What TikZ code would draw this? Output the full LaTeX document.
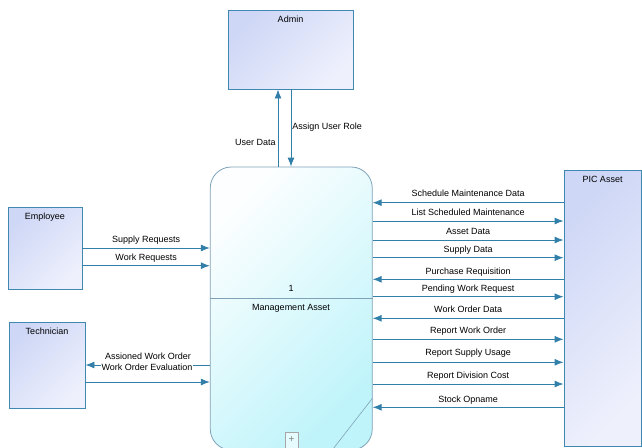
\documentclass[tikz,border=0pt]{standalone}
\usepackage{fontspec}
\setmainfont{Liberation Sans}
\usetikzlibrary{arrows.meta,positioning,calc}
\definecolor{cLine}{RGB}{50,128,170}
\definecolor{cEdge}{RGB}{62,136,178}
\definecolor{cEntA}{RGB}{206,215,246}
\definecolor{cEntB}{RGB}{238,240,252}
\definecolor{cProcA}{RGB}{252,254,255}
\definecolor{cProcB}{RGB}{190,244,250}
\definecolor{cProcEdge}{RGB}{128,162,184}
\begin{document}
\begin{tikzpicture}[x=1pt, y=-1pt,
  ent/.style={draw=cEdge, line width=0.9pt, top color=cEntA, bottom color=cEntB,
              shading angle=45, inner sep=0pt},
  proc/.style={draw=cProcEdge, line width=0.8pt, rounded corners=21pt,
               top color=cProcA, bottom color=cProcB, shading angle=45, inner sep=0pt},
  ttl/.style={anchor=north, font=\fontsize{9}{10}\selectfont, inner sep=0pt, yshift=-6.5pt},
  lbl/.style={font=\fontsize{9}{10}\selectfont, inner sep=1pt, text height=7pt, text depth=2pt},
  flow/.style={draw=cLine, line width=0.9pt, -{Latex[length=9pt,width=7pt]}}]
\useasboundingbox (0,0) rectangle (642,447);
\clip (0,0) rectangle (642,447);
% external entities
\node[ent, minimum width=125pt, minimum height=79pt] (admin) at (290.5,49.5) {};
\node[ttl] (admin-t) at (admin.north) {Admin};
\node[ent, minimum width=74pt, minimum height=82pt] (emp) at (45,248) {};
\node[ttl] (emp-t) at (emp.north) {Employee};
\node[ent, minimum width=76pt, minimum height=86pt] (tech) at (47,365) {};
\node[ttl] (tech-t) at (tech.north) {Technician};
\node[ent, minimum width=77pt, minimum height=276pt] (pic) at (602.5,308) {};
\node[ttl] (pic-t) at (pic.north) {PIC Asset};
% process
\node[proc, minimum width=162pt, minimum height=283pt] (proc) at (291.25,308.5) {};
\draw[cProcEdge, line width=0.8pt] (proc.west |- 0,298) -- (proc.east |- 0,298);
\node[lbl] (proc-id) at (291,289) {1};
\node[lbl] (proc-name) at (291,308) {Management Asset};
\draw[cProcEdge, line width=0.6pt] (proc.east |- 0,398) -- (333,449);
\node[draw=gray!70, fill=white!60!cProcB, minimum width=13pt, minimum height=16pt, inner sep=0pt,
      text=gray, font=\fontsize{10}{10}\selectfont] (proc-plus) at (291.5,440) {+};
% admin
\draw[flow] (proc.north -| 278,0) -- node[lbl, pos=0.3, left=1pt] (ud) {User Data} (admin.south -| 278,0);
\draw[flow] (admin.south -| 291,0) -- node[lbl, pos=0.49, right=0pt] (aur) {Assign User Role} (proc.north -| 291,0);
% employee
\draw[flow] (emp.east |- 0,248) -- node[lbl, above=2pt] (sr) {Supply Requests} (proc.west |- 0,248);
\draw[flow] (emp.east |- 0,265.7) -- node[lbl, above=2pt] (wr) {Work Requests} (proc.west |- 0,265.7);
% technician
\draw[flow] (proc.west |- 0,365) -- (tech.east |- 0,365);
\node[lbl] (awo) at (148,356.7) {Assioned Work Order};
\node[lbl, fill=white, inner sep=0.5pt] (woe) at (147,367.7) {Work Order Evaluation};
\draw[flow] (tech.east |- 0,382) -- (proc.west |- 0,382);
% PIC asset
\draw[flow] (pic.west |- 0,202.7) -- node[lbl, above=3pt] (smd) {Schedule Maintenance Data} (proc.east |- 0,202.7);
\draw[flow] (proc.east |- 0,221) -- node[lbl, above=2pt] (lsm) {List Scheduled Maintenance} (pic.west |- 0,221);
\draw[flow] (proc.east |- 0,240) -- node[lbl, above=2pt] (ad) {Asset Data} (pic.west |- 0,240);
\draw[flow] (proc.east |- 0,257.7) -- node[lbl, above=2pt] (sd) {Supply Data} (pic.west |- 0,257.7);
\draw[flow] (pic.west |- 0,279.3) -- node[lbl, above=1pt] (pr) {Purchase Requisition} (proc.east |- 0,279.3);
\draw[flow] (proc.east |- 0,296.7) -- node[lbl, above=2pt] (pwr) {Pending Work Request} (pic.west |- 0,296.7);
\draw[flow] (pic.west |- 0,318.3) -- node[lbl, above=2pt] (wod) {Work Order Data} (proc.east |- 0,318.3);
\draw[flow] (proc.east |- 0,339.3) -- node[lbl, above=2pt] (rwo) {Report Work Order} (pic.west |- 0,339.3);
\draw[flow] (proc.east |- 0,362.3) -- node[lbl, above=3pt] (rsu) {Report Supply Usage} (pic.west |- 0,362.3);
\draw[flow] (proc.east |- 0,384) -- node[lbl, above=2pt] (rdc) {Report Division Cost} (pic.west |- 0,384);
\draw[flow] (pic.west |- 0,407.3) -- node[lbl, above=1pt] (so) {Stock Opname} (proc.east |- 0,407.3);
\end{tikzpicture}
\end{document}
